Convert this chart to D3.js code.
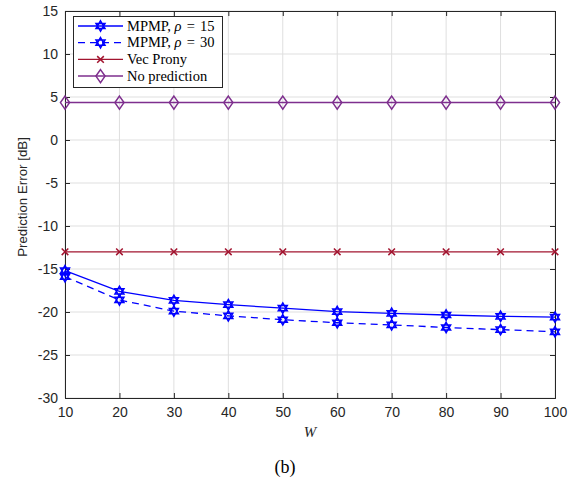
<!DOCTYPE html>
<html><head><meta charset="utf-8">
<script src="https://cdn.jsdelivr.net/npm/d3@7"></script>
<style>body{margin:0;background:#fff}</style>
</head><body>
<svg id="c" width="587" height="478"></svg>
<script>
const W = [10,20,30,40,50,60,70,80,90,100];
const mpmp15 = [-15.2,-17.6,-18.65,-19.15,-19.55,-19.95,-20.15,-20.35,-20.5,-20.6];
const mpmp30 = [-15.9,-18.6,-19.9,-20.45,-20.9,-21.25,-21.5,-21.8,-22.05,-22.3];
const vecProny = [-13,-13,-13,-13,-13,-13,-13,-13,-13,-13];
const noPred = [4.35,4.35,4.35,4.35,4.35,4.35,4.35,4.35,4.35,4.35];
const xTicks = [10,20,30,40,50,60,70,80,90,100];
const yTicks = [-30,-25,-20,-15,-10,-5,0,5,10,15];

const svg = d3.select("#c");
const L=65,R=555,T=11,B=398;
const x = d3.scaleLinear().domain([10,100]).range([L,R]);
const y = d3.scaleLinear().domain([-30,15]).range([B,T]);
const axisCol = "#262626";

// grid
const g = svg.append("g");
g.selectAll(".gx").data(xTicks).enter().append("line")
 .attr("x1",d=>x(d)).attr("x2",d=>x(d)).attr("y1",T).attr("y2",B)
 .attr("stroke","#dfdfdf").attr("stroke-width",1);
g.selectAll(".gy").data(yTicks).enter().append("line")
 .attr("y1",d=>y(d)).attr("y2",d=>y(d)).attr("x1",L).attr("x2",R)
 .attr("stroke","#dfdfdf").attr("stroke-width",1);

// axes
const fontSans = "Liberation Sans, Arial, sans-serif";
const ax = svg.append("g").attr("transform",`translate(0,${B})`)
 .call(d3.axisBottom(x).tickValues(xTicks).tickSize(-5).tickPadding(9));
const axT = svg.append("g").attr("transform",`translate(0,${T})`)
 .call(d3.axisTop(x).tickValues(xTicks).tickSize(-5).tickFormat(""));
const ay = svg.append("g").attr("transform",`translate(${L},0)`)
 .call(d3.axisLeft(y).tickValues(yTicks).tickSize(-5).tickPadding(7));
const ayR = svg.append("g").attr("transform",`translate(${R},0)`)
 .call(d3.axisRight(y).tickValues(yTicks).tickSize(-5).tickFormat(""));
[ax,axT,ay,ayR].forEach(a=>{
  a.selectAll("path").attr("stroke",axisCol).attr("stroke-width",1);
  a.selectAll("line").attr("stroke",axisCol);
  a.selectAll("text").attr("fill",axisCol).style("font-family",fontSans).style("font-size","14px");
});
ay.selectAll("text").text(d=>d<0?"-"+Math.abs(d):d);

// labels
svg.append("text").attr("transform",`translate(27,197) rotate(-90)`)
 .attr("text-anchor","middle").style("font-family",fontSans).style("font-size","13.3px")
 .attr("fill",axisCol).text("Prediction Error [dB]");
svg.append("text").attr("x",(L+R)/2).attr("y",437).attr("text-anchor","middle")
 .style("font-family","Liberation Serif, Times New Roman, serif").style("font-style","italic")
 .style("font-size","15px").attr("fill",axisCol).text("W");
svg.append("text").attr("x",285).attr("y",473).attr("text-anchor","middle")
 .style("font-family","Liberation Serif, Times New Roman, serif")
 .style("font-size","18px").attr("fill","#000").text("(b)");

// markers
function hexagram(r){
  const p1=[],p2=[];
  for(let i=0;i<3;i++){
    const a1=-Math.PI/2+i*2*Math.PI/3, a2=Math.PI/2+i*2*Math.PI/3;
    p1.push([r*Math.cos(a1),r*Math.sin(a1)]);
    p2.push([r*Math.cos(a2),r*Math.sin(a2)]);
  }
  return "M"+p1.join("L")+"Z M"+p2.join("L")+"Z";
}
function diamond(r){ return `M0,${-r}L${r*0.7},0L0,${r}L${-r*0.7},0Z`; }
function cross(r){ return `M${-r},${-r}L${r},${r}M${-r},${r}L${r},${-r}`; }

const series = [
 {name:"MPMP15", vals:mpmp15, col:"#0000ff", dash:null, mk:hexagram(5.2), w:1.3},
 {name:"MPMP30", vals:mpmp30, col:"#0000ff", dash:"7,5", mk:hexagram(5.2), w:1.3},
 {name:"Vec Prony", vals:vecProny, col:"#a2142f", dash:null, mk:cross(3.3), w:1.3},
 {name:"No prediction", vals:noPred, col:"#7e2f8e", dash:null, mk:diamond(6.5), w:1.5},
];
const line = d3.line().x((d,i)=>x(W[i])).y(d=>y(d));
series.forEach(s=>{
  svg.append("path").datum(s.vals).attr("d",line).attr("fill","none")
   .attr("stroke",s.col).attr("stroke-width",s.w).attr("stroke-dasharray",s.dash);
  svg.selectAll(null).data(s.vals).enter().append("path")
   .attr("transform",(d,i)=>`translate(${x(W[i])},${y(d)})`)
   .attr("d",s.mk).attr("fill","none").attr("stroke",s.col).attr("stroke-width",1.5);
});

// legend
const lg = svg.append("g");
lg.append("rect").attr("x",73.5).attr("y",16.5).attr("width",149).attr("height",71)
 .attr("fill","#fff").attr("stroke",axisCol).attr("stroke-width",1);
const labels = [
 ["MPMP, ", "ρ", " = ", "15"],
 ["MPMP, ", "ρ", " = ", "30"],
 ["Vec Prony"],
 ["No prediction"]
];
series.forEach((s,i)=>{
  const yy = 26+i*16.7;
  lg.append("line").attr("x1",78).attr("x2",123).attr("y1",yy).attr("y2",yy)
   .attr("stroke",s.col).attr("stroke-width",s.w).attr("stroke-dasharray",s.dash);
  lg.append("path").attr("transform",`translate(100.5,${yy})`).attr("d",s.mk)
   .attr("fill","none").attr("stroke",s.col).attr("stroke-width",1.5);
  const t = lg.append("text").attr("x",127).attr("y",yy+4.5)
   .style("font-family","Liberation Serif, Times New Roman, serif").style("font-size","14.5px").attr("fill","#000");
  labels[i].forEach((p,j)=>{
    t.append("tspan").text(p).style("font-style", p==="ρ"?"italic":"normal")
     .attr("dx", (p===" = "||(j===3))?1.5:0);
  });
});
</script>
</body></html>
